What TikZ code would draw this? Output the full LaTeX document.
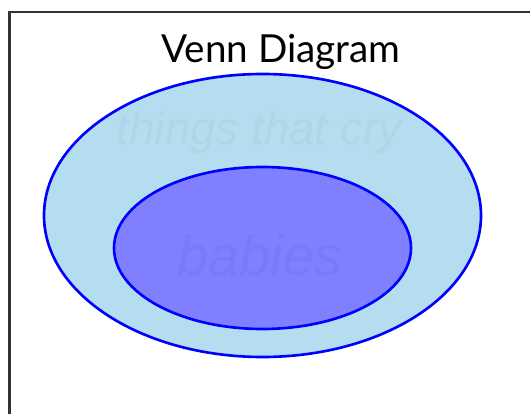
\documentclass[tikz,border=0pt]{standalone}
\usepackage{fontspec}
\setsansfont{Liberation Sans}
\newfontfamily\titlefont{Lato}
\usetikzlibrary{positioning}
\definecolor{SkyFill}{HTML}{B4DEF0}
\definecolor{Violet}{HTML}{7F7FFF}
\definecolor{Edge}{HTML}{0000FF}
\definecolor{Frame}{HTML}{333333}

\begin{document}
\begin{tikzpicture}[setline/.style={draw=Edge,line width=1.5pt},faint/.style={font=\sffamily\itshape,text=black,text opacity=0.035,inner sep=0pt}]
\useasboundingbox (0,0) rectangle (10.6,8.28);
\fill[white] (0,0) rectangle (10.6,8.28);
\draw[Frame,line width=1.5pt] (0.19,0) -- (0.19,8.04) -- (10.7,8.04);

\node[font=\titlefont\fontsize{22}{26}\selectfont] (title) at (5.62,7.24) {Venn Diagram};
\draw[setline,fill=SkyFill] (5.25,3.97) ellipse (4.37 and 2.83);
\node[faint,font=\sffamily\itshape\fontsize{26}{28}\selectfont] (cry) at (5.18,5.63) {things that cry};
\draw[setline,fill=Violet] (5.25,3.32) ellipse (2.97 and 1.62);
\node[faint,font=\sffamily\itshape\fontsize{32}{34}\selectfont] (babies) at (5.2,3.17) {babies};

\end{tikzpicture}
\end{document}
